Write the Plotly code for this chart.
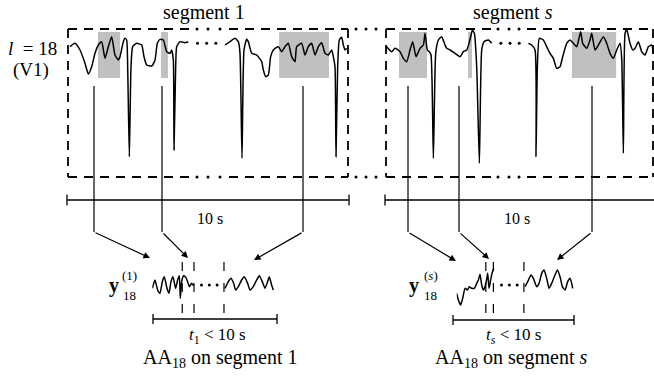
import numpy as np
import plotly.graph_objects as go

W, H = 654, 379
FS = 84.0  # samples per second of the traced waveforms

# ---------------- data: lead V1 (l = 18) -----------------
# segment 1, traced stretches (sample index, mV)
seg1_a_n = [6, 21, 36, 51, 61, 71, 81, 91, 101, 111, 121, 131, 141, 151, 156, 166, 171, 176, 179, 184,
            189, 194, 206, 221, 228, 236, 251, 261, 268, 276, 286, 296, 306, 311, 316, 318, 323, 326, 336, 351, 361]
seg1_a_mv = [0.00, 0.10, -0.10, -0.50, -0.82, -0.60, -0.20, 0.05, 0.15, -0.35, 0.00, 0.30, -0.25, -0.40, -0.30, 0.15, 0.25, 0.20, -0.60, -3.30,
             -0.60, 0.00, 0.10, 0.05, -0.30, -0.55, -0.58, -0.40, 0.10, 0.22, 0.20, -0.15, -0.20, -0.10, -0.40, -3.10, -0.60, 0.00, 0.15, 0.12, 0.15]
seg1_b_n = [471, 486, 501, 511, 516, 522, 528, 536, 541, 551, 566, 581, 586, 593, 601, 608, 616, 631, 641, 651,
            661, 671, 681, 686, 701, 711, 721, 731, 741, 751, 761, 771, 781, 791, 796, 801, 804, 809, 814, 821, 826, 831, 836]
seg1_b_mv = [0.05, 0.15, 0.25, 0.15, -0.20, -3.35, -0.10, 0.22, 0.15, -0.20, -0.25, -0.45, -0.70, -0.90, -0.85, -0.30, -0.10, 0.00, -0.15, 0.00,
             0.10, -0.30, -0.45, 0.00, 0.10, -0.25, 0.00, 0.10, -0.25, 0.00, 0.12, -0.20, -0.25, -0.10, -0.30, -0.60, -3.30, -0.60, 0.20, 0.28, 0.05, -0.10, -0.05]

# segment s
segs_a_n = [3, 18, 28, 43, 53, 63, 73, 81, 91, 103, 113, 118, 125, 131, 136, 143, 150, 158, 168, 178,
            183, 193, 208, 223, 233, 243, 250, 255, 260, 266, 273, 281, 288, 295, 308, 318]
segs_a_mv = [0.00, -0.15, -0.05, -0.15, -0.35, -0.45, -0.10, 0.15, -0.30, -0.05, 0.05, 0.40, -0.10, -0.15, -0.25, -3.35, -0.20, 0.20, 0.30, 0.05,
             -0.05, -0.10, -0.20, -0.30, -0.15, -0.10, 0.10, 0.30, 0.50, 0.40, -0.60, -3.50, -0.10, 0.15, 0.20, 0.10]
segs_b_n = [428, 438, 448, 451, 455, 461, 473, 483, 493, 503, 513, 523, 531, 543, 553, 563, 573, 581, 585, 591,
            603, 613, 618, 628, 638, 653, 663, 673, 683, 693, 703, 708, 713, 718, 723, 733, 741, 748, 758, 768, 778, 788, 798, 803]
segs_b_mv = [0.10, 0.05, -0.10, -3.30, -0.60, 0.25, 0.20, 0.00, -0.20, -0.35, -0.65, -0.60, -0.30, 0.10, 0.20, 0.10, 0.00, 0.30, 0.45, 0.10,
             -0.05, 0.20, 0.40, -0.10, 0.05, 0.30, 0.10, -0.20, -0.35, -0.10, 0.10, -0.35, -3.20, 0.40, 0.52, 0.10, -0.10, -0.05, 0.15, -0.15, -0.25, 0.00, 0.05, -0.20]

# atrial-activity (AA) intervals, seconds within each 10 s segment
seg1_aa = [(1.07, 1.86), (3.32, 3.57), (7.54, 9.32)]
segs_aa = [(0.475, 1.475), (2.94, 3.08), (6.65, 8.23)]
aa_mv_top, aa_mv_bottom = 0.44, -0.94

# concatenated AA signals y_18^(1) and y_18^(s)
snip1_a_n = [0, 8, 16, 23, 30, 36, 44, 50, 56, 62, 70, 76, 81, 84, 88, 94, 101, 106, 111, 118, 124]
snip1_a_mv = [-0.10, 0.15, -0.15, -0.25, 0.10, 0.25, -0.10, -0.25, 0.10, 0.25, -0.10, 0.15, 0.28, -0.40, 0.10, 0.28, 0.22, 0.10, -0.05, 0.05, -0.02]
snip1_b_n = [218, 228, 236, 244, 250, 258, 268, 276, 286, 293, 303, 313, 321, 330, 338, 346, 351, 358, 363]
snip1_b_mv = [-0.10, 0.10, 0.20, 0.05, -0.15, -0.05, 0.15, 0.25, 0.05, -0.15, -0.05, 0.15, 0.28, 0.10, -0.10, 0.10, 0.25, 0.00, -0.15]
snip1_bounds_s = [1.07, 1.49, 2.56]

snips_a_n = [0, 5, 12, 18, 25, 32, 38, 45, 53, 60, 65, 70, 75, 80, 85, 90, 93, 97, 101, 106, 111]
snips_a_mv = [-0.25, -0.45, -0.60, -0.40, -0.10, -0.15, -0.05, -0.10, -0.10, 0.05, 0.15, 0.32, 0.00, -0.15, -0.05, 0.18, 0.35, -0.10, 0.10, 0.35, 0.50]
snips_b_n = [205, 213, 223, 230, 240, 247, 255, 262, 270, 277, 285, 295, 302, 310, 317, 325, 333, 340, 345, 348]
snips_b_mv = [-0.05, 0.10, 0.30, 0.20, -0.05, 0.05, 0.35, 0.45, 0.20, -0.10, 0.05, 0.30, 0.45, 0.25, -0.05, -0.15, 0.10, 0.20, 0.05, -0.10]
snips_bounds_s = [1.04, 1.31, 2.40]

# text
title_1, title_s = "segment 1", "segment <i>s</i>"
lead_label, lead_name = "<i>l</i>&nbsp;&nbsp;=&nbsp;18", "(V1)"
dur_label = "10 s"
t1_label = "<i>t</i><sub>1</sub>&nbsp;&lt;&nbsp;10&nbsp;s"
ts_label = "<i>t<sub>s</sub></i>&nbsp;&lt;&nbsp;10&nbsp;s"
cap_1 = "AA<sub>18</sub> on segment 1"
cap_s = "AA<sub>18</sub> on segment <i>s</i>"

# ---------------- layout constants (pixels) -----------------
FONT = "Liberation Serif, Times New Roman, serif"
BOX_T, BOX_B = 29, 177
L_X0, L_X1 = 68, 348
R_X0, R_X1 = 386, 653
PX_PER_S = 28.0
SN_Y0, SN_Y1 = 255, 320
SN1_X0, SNS_X0 = 152.3, 456.7


def vdom(p0, p1):
    return [1 - p1 / H, 1 - p0 / H]


fig = go.Figure()


def gap_join(an, amv, bn, bmv):
    t = list(np.array(an) / FS) + [None] + list(np.array(bn) / FS)
    v = list(amv) + [None] + list(bmv)
    gap = np.linspace(an[-1] / FS, bn[0] / FS, 5)[1:-1]
    return t, v, gap


sig_line = dict(color="black", width=1.5, shape="spline", smoothing=0.5)

# top panels
for (an, amv, bn, bmv, ax, dot_v) in [
        (seg1_a_n, seg1_a_mv, seg1_b_n, seg1_b_mv, "2", 0.10),
        (segs_a_n, segs_a_mv, segs_b_n, segs_b_mv, "3", 0.10)]:
    t, v, gap = gap_join(an, amv, bn, bmv)
    fig.add_trace(go.Scatter(x=t, y=v, mode="lines", line=sig_line, xaxis="x" + ax, yaxis="y" + ax,
                             hoverinfo="skip", connectgaps=False))
    fig.add_trace(go.Scatter(x=gap, y=[dot_v] * 3, mode="markers", marker=dict(size=3, color="black"),
                             xaxis="x" + ax, yaxis="y" + ax, hoverinfo="skip"))

# snippet panels
for (an, amv, bn, bmv, ax, bounds) in [
        (snip1_a_n, snip1_a_mv, snip1_b_n, snip1_b_mv, "4", snip1_bounds_s),
        (snips_a_n, snips_a_mv, snips_b_n, snips_b_mv, "5", snips_bounds_s)]:
    t, v, gap = gap_join(an, amv, bn, bmv)
    fig.add_trace(go.Scatter(x=t, y=v, mode="lines", line=sig_line, xaxis="x" + ax, yaxis="y" + ax,
                             hoverinfo="skip", connectgaps=False))
    fig.add_trace(go.Scatter(x=gap, y=[0.0] * 3, mode="markers", marker=dict(size=3, color="black"),
                             xaxis="x" + ax, yaxis="y" + ax, hoverinfo="skip"))
    for b in bounds:
        fig.add_trace(go.Scatter(x=[b, b], y=[0.69, -0.84], mode="lines",
                                 line=dict(color="black", width=1.2, dash="9px,12px"),
                                 xaxis="x" + ax, yaxis="y" + ax, hoverinfo="skip"))

shapes = []
# gray AA rectangles
for ax, aa in [("2", seg1_aa), ("3", segs_aa)]:
    for a, b in aa:
        shapes.append(dict(type="rect", xref="x" + ax, yref="y" + ax, x0=a, x1=b,
                           y0=aa_mv_bottom, y1=aa_mv_top, fillcolor="#c0c0c0",
                           line=dict(width=0), layer="below"))

box_dash = dict(color="black", width=1.8, dash="9px,7px")


def seg(x0, y0, x1, y1, line):
    shapes.append(dict(type="line", xref="x", yref="y", x0=x0, y0=y0, x1=x1, y1=y1, line=line))


# dashed segment boxes (with dotted breaks)
for y in (BOX_T, BOX_B):
    seg(L_X0, y, 189, y, box_dash)
    seg(229, y, L_X1, y, box_dash)
    seg(R_X0, y, 493, y, box_dash)
    seg(527, y, R_X1, y, box_dash)
for x in (L_X0, L_X1, R_X0, R_X1):
    seg(x, BOX_T, x, BOX_B, box_dash)

dot_x = [197, 208, 220, 356, 366, 376, 498, 509, 519]
fig.add_trace(go.Scatter(x=dot_x * 2, y=[BOX_T] * len(dot_x) + [BOX_B] * len(dot_x), mode="markers",
                         marker=dict(size=3, color="black"), hoverinfo="skip"))

# 10 s scale bars
bar = dict(color="black", width=1.3)
seg(67, 200, 349, 200, bar)
seg(67, 194.5, 67, 205.5, bar)
seg(349, 194.5, 349, 205.5, bar)
seg(385, 200, 654, 200, bar)
seg(385, 194.5, 385, 205.5, bar)
# t < 10 s bars
seg(153, 319, 277, 319, bar)
seg(153, 314, 153, 324, bar)
seg(277, 314, 277, 324, bar)
seg(453, 320, 574, 320, bar)
seg(453, 315, 453, 325, bar)
seg(574, 315, 574, 325, bar)

# connectors and arrows
conn = dict(color="black", width=1.2)
connectors = [(94, 150, 258), (162, 188, 258), (303, 254, 260),
              (408, 456, 261), (459, 489, 259), (592, 557, 260)]
annotations = []
for xc, hx, hy in connectors:
    seg(xc, 86, xc, 232, conn)
    annotations.append(dict(x=hx, y=hy, ax=xc, ay=232, xref="x", yref="y", axref="x", ayref="y",
                            text="", showarrow=True, arrowhead=2, arrowsize=1.1, arrowwidth=1.2,
                            arrowcolor="black", standoff=0, startstandoff=0))


def txt(x, y, s, size, xanchor="center"):
    annotations.append(dict(x=x, y=y, xref="x", yref="y", text=s, showarrow=False,
                            xanchor=xanchor, yanchor="middle",
                            font=dict(family=FONT, size=size, color="black")))


txt(204, 12, title_1, 20)
txt(513, 12, title_s, 20)
txt(59, 48, lead_label, 19, "right")
txt(31, 70, lead_name, 19)
txt(210, 218, dur_label, 16)
txt(517, 218, dur_label, 16)
txt(217, 336, t1_label, 17)
txt(513, 336, ts_label, 17)
txt(220, 358, cap_1, 20)
txt(511, 358, cap_s, 20)
# y_18^(1), y_18^(s)
txt(114, 285, "<b>y</b>", 20)
txt(129, 275, "(1)", 13)
txt(129, 295, "18", 13)
txt(414, 285, "<b>y</b>", 20)
txt(431, 275, "(<i>s</i>)", 13)
txt(430, 295, "18", 13)

hidden = dict(visible=False, fixedrange=True)
top_y = [-3.91, 0.53]
sn_y = [-1.05, 0.9]
layout_axes = dict(
    xaxis=dict(domain=[0, 1], range=[0, W], **hidden),
    yaxis=dict(domain=[0, 1], range=[H, 0], **hidden),
    xaxis2=dict(domain=[L_X0 / W, L_X1 / W], range=[0, (L_X1 - L_X0) / PX_PER_S], anchor="y2", **hidden),
    yaxis2=dict(domain=vdom(BOX_T, BOX_B), range=top_y, anchor="x2", **hidden),
    xaxis3=dict(domain=[385.7 / W, 1], range=[0, (W - 385.7) / PX_PER_S], anchor="y3", **hidden),
    yaxis3=dict(domain=vdom(BOX_T, BOX_B), range=top_y, anchor="x3", **hidden),
    xaxis4=dict(domain=[SN1_X0 / W, (SN1_X0 + 130) / W], range=[0, 130 / PX_PER_S], anchor="y4", **hidden),
    yaxis4=dict(domain=vdom(SN_Y0, SN_Y1), range=sn_y, anchor="x4", **hidden),
    xaxis5=dict(domain=[SNS_X0 / W, (SNS_X0 + 130) / W], range=[0, 130 / PX_PER_S], anchor="y5", **hidden),
    yaxis5=dict(domain=vdom(SN_Y0, SN_Y1), range=sn_y, anchor="x5", **hidden),
)

fig.update_layout(width=W, height=H, margin=dict(l=0, r=0, t=0, b=0), showlegend=False,
                  paper_bgcolor="white", plot_bgcolor="rgba(0,0,0,0)",
                  font=dict(family=FONT, color="black"),
                  shapes=shapes, annotations=annotations, **layout_axes)

fig.write_html("out.html", config={"displayModeBar": False, "staticPlot": True},
               post_script="document.body.style.margin='0';document.body.style.padding='0';"
                           "document.body.style.overflow='hidden';")
